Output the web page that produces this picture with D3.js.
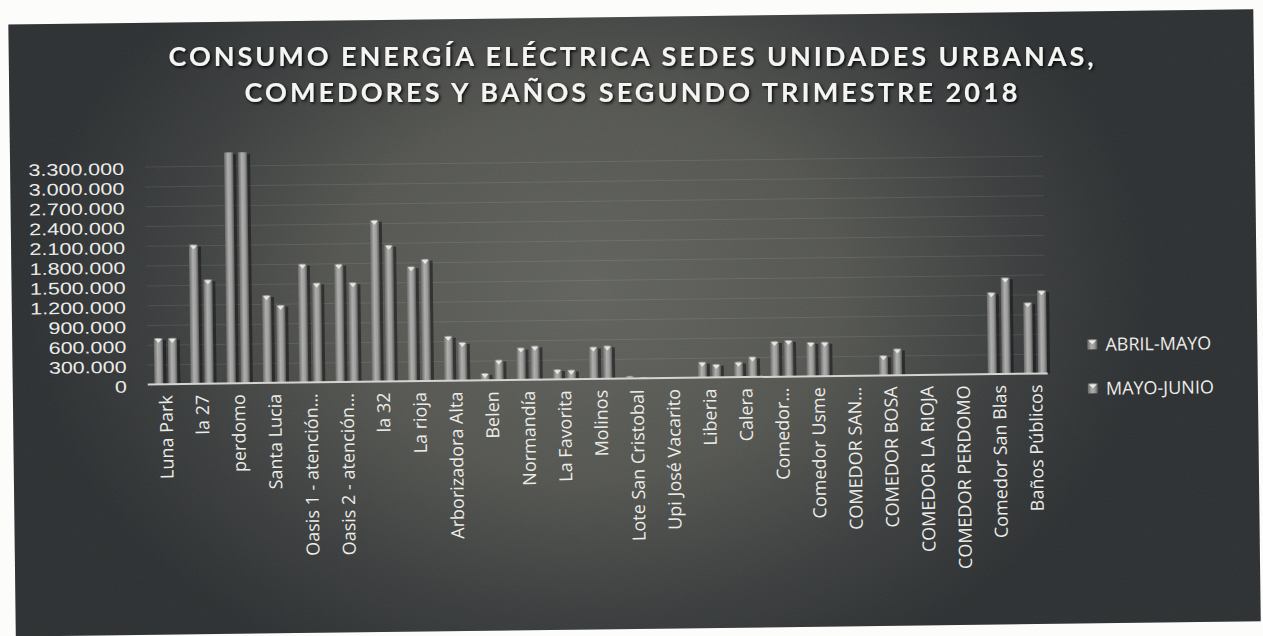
<!DOCTYPE html>
<html>
<head>
<meta charset="utf-8">
<script src="https://cdn.jsdelivr.net/npm/d3@7"></script>
<style>
  html, body { margin: 0; padding: 0; background: #fcfcfb; }
  svg { display: block; }
  text { font-family: "Open Sans", "Noto Sans", sans-serif; }
</style>
</head>
<body>
<svg id="chart" width="1263" height="636"></svg>
<script>
// ---------- DATA ----------
const categories = [
  "Luna Park", "la 27", "perdomo", "Santa Lucia", "Oasis 1 - atención…",
  "Oasis 2 - atención…", "la 32", "La rioja", "Arborizadora Alta", "Belen",
  "Normandía", "La Favorita", "Molinos", "Lote San Cristobal", "Upi José Vacarito",
  "Liberia", "Calera", "Comedor…", "Comedor Usme", "COMEDOR SAN…",
  "COMEDOR BOSA", "COMEDOR LA RIOJA", "COMEDOR PERDOMO", "Comedor San Blas", "Baños Públicos"
];
const seriesNames = ["ABRIL-MAYO", "MAYO-JUNIO"];
const abrilMayo = [
  700000, 2110000, 3500000, 1330000, 1800000,
  1790000, 2450000, 1740000, 680000, 110000,
  490000, 155000, 490000, 40000, 0,
  240000, 235000, 540000, 520000, 0,
  305000, 0, 0, 1240000, 1080000
];
const mayoJunio = [
  700000, 1580000, 3500000, 1180000, 1510000,
  1510000, 2070000, 1850000, 585000, 310000,
  515000, 145000, 505000, 20000, 0,
  205000, 310000, 555000, 520000, 0,
  405000, 0, 0, 1460000, 1260000
];
const yTickValues = [0, 300000, 600000, 900000, 1200000, 1500000, 1800000,
                     2100000, 2400000, 2700000, 3000000, 3300000];
const yMax = 3500000;
const titleLines = [
  "CONSUMO ENERGÍA ELÉCTRICA SEDES UNIDADES URBANAS,",
  "COMEDORES Y BAÑOS SEGUNDO TRIMESTRE 2018"
];

// ---------- SETUP ----------
const svg = d3.select("#chart");
const W = 1263, H = 636;
const defs = svg.append("defs");

const bg = defs.append("radialGradient").attr("id", "bgGrad")
  .attr("gradientUnits", "userSpaceOnUse")
  .attr("cx", 590).attr("cy", 290).attr("r", 560)
  .attr("gradientTransform", "translate(590,290) scale(1,0.75) translate(-590,-290)");
bg.append("stop").attr("offset", "0%").attr("stop-color", "#575853");
bg.append("stop").attr("offset", "45%").attr("stop-color", "#484944");
bg.append("stop").attr("offset", "75%").attr("stop-color", "#2d2f30");
bg.append("stop").attr("offset", "100%").attr("stop-color", "#1c1f22");

const barGrad = defs.append("linearGradient").attr("id", "barGrad")
  .attr("x1", "0%").attr("x2", "100%").attr("y1", "0%").attr("y2", "0%");
barGrad.append("stop").attr("offset", "0%").attr("stop-color", "#6a6a6a");
barGrad.append("stop").attr("offset", "40%").attr("stop-color", "#aeaeac");
barGrad.append("stop").attr("offset", "70%").attr("stop-color", "#9c9c9a");
barGrad.append("stop").attr("offset", "100%").attr("stop-color", "#5a5a5a");

const noise = defs.append("filter").attr("id", "noise")
  .attr("x", 0).attr("y", 0).attr("width", "100%").attr("height", "100%");
noise.append("feTurbulence").attr("type", "fractalNoise")
  .attr("baseFrequency", 0.85).attr("numOctaves", 2).attr("seed", 4).attr("result", "t");
noise.append("feColorMatrix").attr("type", "matrix")
  .attr("values", "0.7 0 0 0 0.15  0 0.7 0 0 0.18  0 0 0.7 0 0.15  0 0 0 0 0.13");

const shadow = defs.append("filter").attr("id", "tshadow")
  .attr("x", "-5%").attr("y", "-30%").attr("width", "110%").attr("height", "160%");
shadow.append("feDropShadow").attr("dx", 1.5).attr("dy", 1.5)
  .attr("stdDeviation", 1.5).attr("flood-color", "#000").attr("flood-opacity", 0.9);

svg.append("rect").attr("width", W).attr("height", H).attr("fill", "#fcfcfb");

// whole scanned panel is slightly tilted
const root = svg.append("g").attr("transform", "rotate(-0.7, 630, 320)");

root.append("rect").attr("x", 12).attr("y", 17).attr("width", 1245).attr("height", 612)
  .attr("fill", "url(#bgGrad)");
root.append("rect").attr("x", 12).attr("y", 17).attr("width", 1245).attr("height", 612)
  .attr("filter", "url(#noise)").attr("fill", "#fff");

// ---------- TITLE (kept level so the two lines do not collide) ----------
const titleG = svg.append("g").attr("filter", "url(#tshadow)");
const titleLengths = [925, 773];
titleLines.forEach((t, i) => {
  titleG.append("text")
    .attr("x", 631).attr("y", 66 + i * 36)
    .attr("text-anchor", "middle")
    .attr("font-size", 27).attr("font-weight", 700)
    .attr("fill", "#f4f4f2")
    .attr("textLength", titleLengths[i]).attr("lengthAdjust", "spacing")
    .style("font-family", 'Lato, "Open Sans", sans-serif')
    .text(t);
});

// ---------- SCALES ----------
const plotLeft = 147, plotRight = 1053, baseY = 378.5;
const pxPerStep = 19.8;
const yTop = baseY - (yMax / 300000) * pxPerStep;

const x0 = d3.scaleBand().domain(categories).range([plotLeft, plotRight]).padding(0);
const bw = x0.bandwidth();
const x1 = d3.scaleBand().domain(seriesNames)
  .range([bw / 2 - 11.5, bw / 2 + 11.5]).paddingInner(0.357).paddingOuter(0);
const y = d3.scaleLinear().domain([0, yMax]).range([baseY, yTop]).clamp(true);

const locale = d3.formatLocale({ decimal: ",", thousands: ".", grouping: [3], currency: ["$", ""] });
const fmt = locale.format(",d");

// gridlines
const grid = root.append("g").attr("transform", `translate(${plotLeft},0)`)
  .call(d3.axisLeft(y).tickValues(yTickValues.slice(1)).tickSize(-(1045 - plotLeft)).tickFormat(""));
grid.select(".domain").remove();
grid.selectAll("line").attr("stroke", "#ffffff").attr("stroke-opacity", 0.09);

// y axis labels (tightly packed, widened glyphs as in the reference)
const yAxis = root.append("g").attr("transform", "translate(126,2)")
  .call(d3.axisLeft(y).tickValues(yTickValues).tickFormat(fmt).tickSize(0).tickPadding(0));
yAxis.select(".domain").remove();
yAxis.selectAll("text")
  .attr("x", 0)
  .attr("transform", "scale(1.28,1)")
  .attr("text-anchor", "end")
  .attr("font-size", 16.8).attr("fill", "#ecece8")
  .style("font-family", '"Liberation Sans", Arial, sans-serif');

// ---------- BARS ----------
const data = categories.map((c, i) => ({ c, vals: [abrilMayo[i], mayoJunio[i]] }));
const cat = root.append("g").selectAll("g").data(data).join("g")
  .attr("transform", d => `translate(${x0(d.c)},0)`);

const bars = cat.selectAll("g.bar")
  .data(d => d.vals.map((v, k) => ({ s: seriesNames[k], v })).filter(e => e.v > 0))
  .join("g").attr("class", "bar");

bars.append("rect")
  .attr("x", e => x1(e.s) + x1.bandwidth())
  .attr("y", e => y(e.v) + 2)
  .attr("width", 3)
  .attr("height", e => Math.max(0, y(0) - y(e.v) - 2))
  .attr("fill", "#101214").attr("fill-opacity", 0.55);
bars.append("rect")
  .attr("x", e => x1(e.s))
  .attr("y", e => y(e.v))
  .attr("width", x1.bandwidth())
  .attr("height", e => y(0) - y(e.v))
  .attr("fill", "url(#barGrad)");
bars.filter(e => e.v < yMax && (y(0) - y(e.v)) > 5).append("path")
  .attr("d", e => {
    const xa = x1(e.s) + 1, xb = x1(e.s) + x1.bandwidth() - 1, yy = y(e.v) + 1;
    return `M${xa},${yy}L${xb},${yy}L${(xa + xb) / 2},${yy + 4}Z`;
  })
  .attr("fill", "#e6e6e3");

// ---------- X AXIS ----------
root.append("line")
  .attr("x1", plotLeft).attr("x2", 1047)
  .attr("y1", baseY).attr("y2", baseY)
  .attr("stroke", "#d4d4d0").attr("stroke-width", 2);

const xAxis = root.append("g").attr("transform", `translate(0,${baseY})`)
  .call(d3.axisBottom(x0).tickSize(0).tickPadding(0));
xAxis.select(".domain").remove();
xAxis.selectAll("text")
  .attr("transform", "rotate(-90)")
  .attr("text-anchor", "end")
  .attr("x", -11).attr("y", 0).attr("dy", "0.36em")
  .attr("font-size", 18).attr("fill", "#ecece8")
  .style("font-family", '"Open Sans", sans-serif');

// ---------- LEGEND ----------
const legend = root.append("g").attr("transform", "translate(1087,0)");
seriesNames.forEach((s, i) => {
  const yy = 350 + i * 44;
  legend.append("rect").attr("x", 0).attr("y", yy - 5).attr("width", 10).attr("height", 10)
    .attr("fill", "url(#barGrad)");
  legend.append("path")
    .attr("d", `M1,${yy - 4}L9,${yy - 4}L5,${yy}Z`).attr("fill", "#ecece9");
  legend.append("text").attr("x", 18).attr("y", yy).attr("dy", "0.36em")
    .attr("font-size", 18).attr("fill", "#ecece8").text(s);
});
</script>
</body>
</html>
